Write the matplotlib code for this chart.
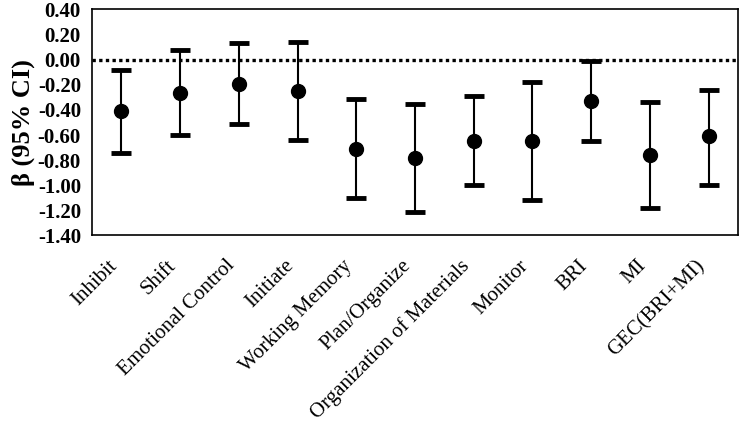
import matplotlib
matplotlib.use("Agg")
import matplotlib.pyplot as plt
import matplotlib.transforms as mtransforms
import numpy as np

categories = ["Inhibit", "Shift", "Emotional Control", "Initiate", "Working Memory",
              "Plan/Organize", "Organization of Materials", "Monitor", "BRI", "MI",
              "GEC(BRI+MI)"]
beta = [-0.41, -0.265, -0.19, -0.25, -0.71, -0.78, -0.645, -0.645, -0.325, -0.76, -0.61]
ci_low = [-0.74, -0.60, -0.51, -0.64, -1.105, -1.21, -1.00, -1.12, -0.65, -1.18, -1.00]
ci_high = [-0.08, 0.074, 0.133, 0.14, -0.31, -0.35, -0.29, -0.175, -0.008, -0.34, -0.24]
yticks = [0.40, 0.20, 0.00, -0.20, -0.40, -0.60, -0.80, -1.00, -1.20, -1.40]

plt.rcParams['font.family'] = ['Liberation Serif', 'DejaVu Serif']

fig = plt.figure(figsize=(7.42, 4.22), dpi=100)
ax = fig.add_axes([0.124, 0.442, 0.8706, 0.5355])

x = np.arange(len(categories))
b = np.array(beta)
lo = np.array(ci_low)
hi = np.array(ci_high)
ax.axhline(0, color='black', linestyle=(0, (1, 1)), linewidth=2.4, zorder=1)
ax.errorbar(x, b, yerr=[b - lo, hi - b], fmt='o', color='black', markersize=10,
            ecolor='black', elinewidth=1.5, capsize=7, capthick=3.5, zorder=3)

ax.set_xlim(-0.5, len(categories) - 0.5)
ax.set_ylim(-1.40, 0.40)
ax.set_yticks(yticks)
ax.set_yticklabels([f"{v:.2f}" for v in yticks], fontsize=15, fontweight='bold')
ax.set_xticks(x)
ax.set_xticklabels(categories, rotation=45, ha='right', va='top', fontsize=15)
offset = mtransforms.ScaledTranslation(4 / 100, 0, fig.dpi_scale_trans)
for lbl in ax.get_xticklabels():
    lbl.set_transform(lbl.get_transform() + offset)
ax.tick_params(axis='both', length=0)
ax.tick_params(axis='x', pad=15)
ax.tick_params(axis='y', pad=8)
ax.set_ylabel("β (95% CI)", fontsize=19, fontweight='bold', labelpad=2)
for s in ax.spines.values():
    s.set_linewidth(1.2)

fig.savefig("out.png", dpi=100)
